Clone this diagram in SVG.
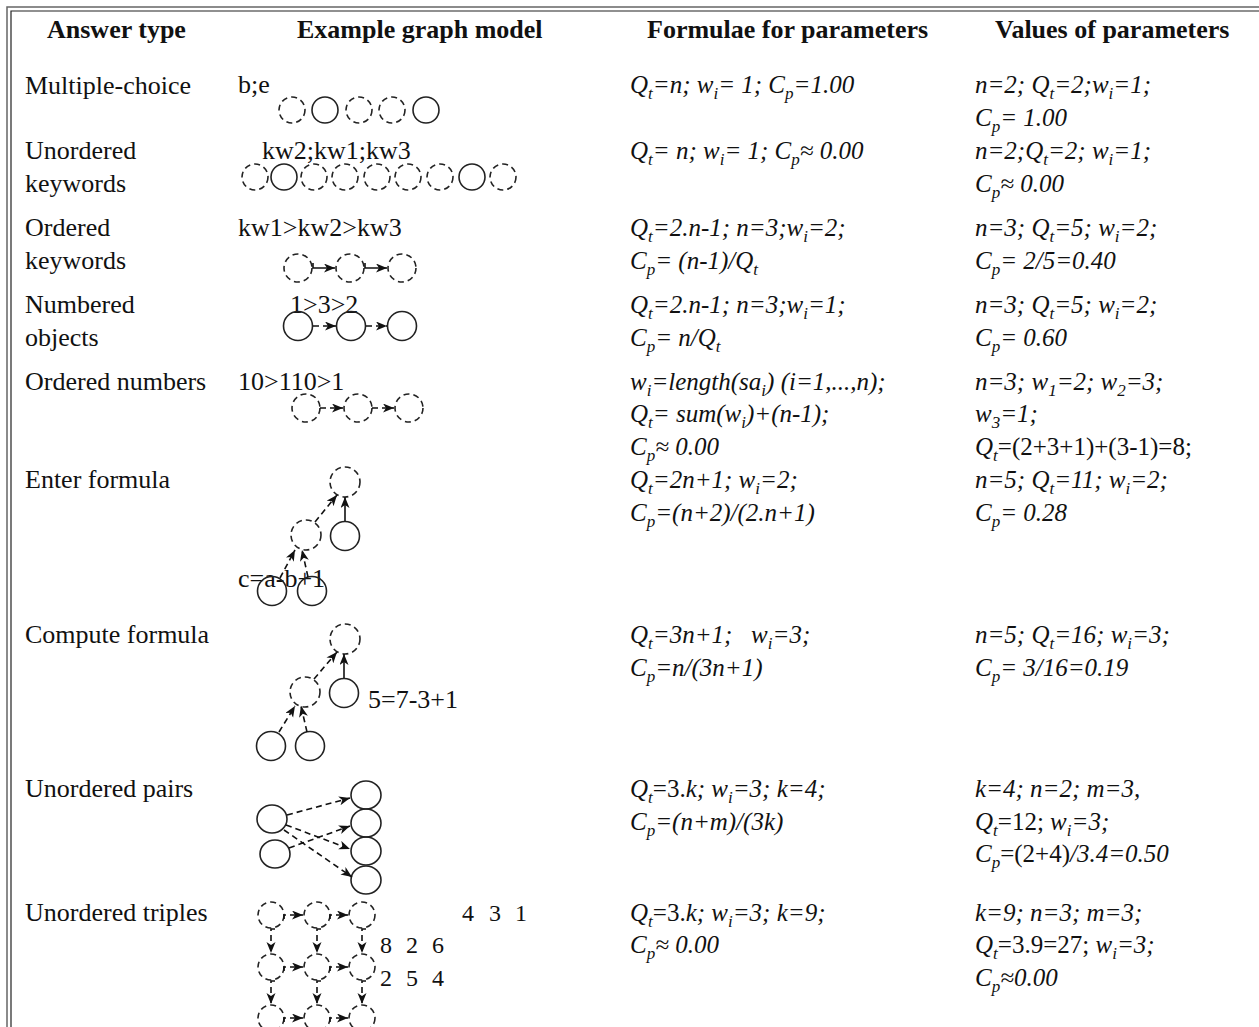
<svg xmlns="http://www.w3.org/2000/svg" width="1259" height="1027" viewBox="0 0 1259 1027">
<style>
.h{font-family:"Liberation Serif",serif;font-weight:bold;font-size:26px;fill:#111}
.t{font-family:"Liberation Serif",serif;font-size:26px;fill:#111}
.f{font-family:"Liberation Serif",serif;font-style:italic;font-size:25px;fill:#111}
.u{font-style:normal}
.d{font-family:"Liberation Serif",serif;font-size:24px;fill:#111}
.c{fill:none;stroke:#222;stroke-width:1.6}
.cd{fill:none;stroke:#222;stroke-width:1.6;stroke-dasharray:6 4}
.a{fill:none;stroke:#111;stroke-width:1.6;marker-end:url(#ah)}
.ad{fill:none;stroke:#111;stroke-width:1.6;stroke-dasharray:6 4;marker-end:url(#ah)}
</style>
<defs>
<marker id="ah" markerUnits="userSpaceOnUse" markerWidth="12" markerHeight="10" refX="11" refY="4.5" orient="auto">
<path d="M0,0 L11,4.5 L0,9 L3,4.5 z" fill="#111"/>
</marker>
</defs>
<rect width="1259" height="1027" fill="#fff"/>
<g id="border" fill="none">
<path d="M7,1027 V7 H1259" stroke="#666" stroke-width="1.5"/>
<path d="M11,1027 V11 H1259" stroke="#222" stroke-width="1.2"/>
</g>
<g id="header">
<text class="h" x="47" y="38">Answer type</text>
<text class="h" x="297" y="38">Example graph model</text>
<text class="h" x="647" y="38">Formulae for parameters</text>
<text class="h" x="995" y="38">Values of parameters</text>
</g>
<g id="answer-types">
<text class="t" x="25" y="94">Multiple-choice</text>
<text class="t" x="25" y="159">Unordered</text>
<text class="t" x="25" y="192">keywords</text>
<text class="t" x="25" y="236">Ordered</text>
<text class="t" x="25" y="269">keywords</text>
<text class="t" x="25" y="313">Numbered</text>
<text class="t" x="25" y="346">objects</text>
<text class="t" x="25" y="390">Ordered numbers</text>
<text class="t" x="25" y="488">Enter formula</text>
<text class="t" x="25" y="643">Compute formula</text>
<text class="t" x="25" y="797">Unordered pairs</text>
<text class="t" x="25" y="921">Unordered triples</text>
</g>
<g id="graph-labels">
<text class="t" x="238" y="93">b;e</text>
<text class="t" x="262" y="159">kw2;kw1;kw3</text>
<text class="t" x="238" y="236">kw1&gt;kw2&gt;kw3</text>
<text class="t" x="290" y="313">1&gt;3&gt;2</text>
<text class="t" x="238" y="390">10&gt;110&gt;1</text>
<text class="t" x="238" y="587">c=a-b+1</text>
<text class="t" x="368" y="708">5=7-3+1</text>
<text class="d" y="921"><tspan x="462">4</tspan><tspan x="489">3</tspan><tspan x="515">1</tspan></text>
<text class="d" y="953"><tspan x="380">8</tspan><tspan x="406">2</tspan><tspan x="432">6</tspan></text>
<text class="d" y="986"><tspan x="380">2</tspan><tspan x="406">5</tspan><tspan x="432">4</tspan></text>
</g>
<g id="node-mc">
<circle class="cd" cx="292" cy="110" r="13"/>
<circle class="c" cx="325" cy="110" r="13"/>
<circle class="cd" cx="359" cy="110" r="13"/>
<circle class="cd" cx="392" cy="110" r="13"/>
<circle class="c" cx="426" cy="110" r="13"/>
</g>
<g id="node-uk">
<circle class="cd" cx="255" cy="177" r="13"/>
<circle class="c" cx="284" cy="177" r="13"/>
<circle class="cd" cx="314" cy="177" r="13"/>
<circle class="cd" cx="345" cy="177" r="13"/>
<circle class="cd" cx="377" cy="177" r="13"/>
<circle class="cd" cx="408" cy="177" r="13"/>
<circle class="cd" cx="440" cy="177" r="13"/>
<circle class="c" cx="472" cy="177" r="13"/>
<circle class="cd" cx="503" cy="177" r="13"/>
</g>
<g id="node-ok">
<circle class="cd" cx="298" cy="268" r="14"/>
<circle class="cd" cx="350" cy="268" r="14"/>
<circle class="cd" cx="402" cy="268" r="14"/>
</g>
<g id="node-no">
<circle class="c" cx="298" cy="326" r="14.5"/>
<circle class="c" cx="351" cy="326" r="14.5"/>
<circle class="c" cx="402" cy="326" r="14.5"/>
</g>
<g id="node-on">
<circle class="cd" cx="306" cy="408" r="14"/>
<circle class="cd" cx="358" cy="408" r="14"/>
<circle class="cd" cx="409" cy="408" r="14"/>
</g>
<g id="node-ef">
<circle class="cd" cx="345" cy="482" r="15"/>
<circle class="cd" cx="306" cy="535" r="15"/>
<circle class="c" cx="345" cy="536" r="14.5"/>
<circle class="c" cx="272" cy="591" r="14.5"/>
<circle class="c" cx="312" cy="591" r="14.5"/>
</g>
<g id="node-cf">
<circle class="cd" cx="345" cy="639" r="15"/>
<circle class="cd" cx="305" cy="692" r="15"/>
<circle class="c" cx="344" cy="693" r="14.5"/>
<circle class="c" cx="271" cy="746" r="14.5"/>
<circle class="c" cx="310" cy="746" r="14.5"/>
</g>
<g id="node-up">
<ellipse class="c" cx="272" cy="819" rx="15" ry="14"/>
<ellipse class="c" cx="275" cy="854" rx="15" ry="14"/>
<ellipse class="c" cx="366" cy="795" rx="15" ry="14"/>
<ellipse class="c" cx="366" cy="823" rx="15" ry="14"/>
<ellipse class="c" cx="366" cy="851" rx="15" ry="14"/>
<ellipse class="c" cx="366" cy="880" rx="15" ry="14"/>
</g>
<g id="node-ut">
<circle class="cd" cx="271" cy="915" r="13"/>
<circle class="cd" cx="317" cy="915" r="13"/>
<circle class="cd" cx="362" cy="915" r="13"/>
<circle class="cd" cx="271" cy="967" r="13"/>
<circle class="cd" cx="317" cy="967" r="13"/>
<circle class="cd" cx="362" cy="967" r="13"/>
<circle class="cd" cx="271" cy="1018" r="13"/>
<circle class="cd" cx="317" cy="1018" r="13"/>
<circle class="cd" cx="362" cy="1018" r="13"/>
</g>
<g id="connectors">
<path class="a" d="M313,263 V268 H335"/>
<path class="a" d="M365,263 V268 H387"/>
<path class="ad" d="M313,326 H336"/>
<path class="ad" d="M366,326 H387"/>
<path class="ad" d="M320,408 H343"/>
<path class="ad" d="M372,408 H394"/>
<path class="ad" d="M315,522 L337,495"/>
<path class="a" d="M345,521 V497"/>
<path class="ad" d="M280,578 L295,550"/>
<path class="ad" d="M308,577 L302,550"/>
<path class="ad" d="M314,679 L337,652"/>
<path class="a" d="M344,678 V654"/>
<path class="ad" d="M279,732 L295,706"/>
<path class="ad" d="M307,732 L301,706"/>
<path class="ad" d="M287,815 L350,798"/>
<path class="ad" d="M286,825 L350,849"/>
<path class="ad" d="M284,830 L352,877"/>
<path class="ad" d="M289,848 L350,826"/>
<path class="ad" d="M284,919 V915 H303"/>
<path class="ad" d="M330,919 V915 H348"/>
<path class="ad" d="M284,971 V967 H303"/>
<path class="ad" d="M330,971 V967 H348"/>
<path class="ad" d="M284,1022 V1018 H303"/>
<path class="ad" d="M330,1022 V1018 H348"/>
<path class="ad" d="M275,929 H271 V953"/>
<path class="ad" d="M321,929 H317 V953"/>
<path class="ad" d="M366,929 H362 V953"/>
<path class="ad" d="M275,981 H271 V1004"/>
<path class="ad" d="M321,981 H317 V1004"/>
<path class="ad" d="M366,981 H362 V1004"/>
</g>
<g id="formulae">
<text class="f" x="630" y="93">Q<tspan dy="6" font-size="17">t</tspan><tspan dy="-6">=n; w</tspan><tspan dy="6" font-size="17">i</tspan><tspan dy="-6">= 1; C</tspan><tspan dy="6" font-size="17">p</tspan><tspan dy="-6">=1.00</tspan></text>
<text class="f" x="630" y="159">Q<tspan dy="6" font-size="17">t</tspan><tspan dy="-6">= n; w</tspan><tspan dy="6" font-size="17">i</tspan><tspan dy="-6">= 1; C</tspan><tspan dy="6" font-size="17">p</tspan><tspan dy="-6">≈ 0.00</tspan></text>
<text class="f" x="630" y="236">Q<tspan dy="6" font-size="17">t</tspan><tspan dy="-6">=2.n-1; n=3;w</tspan><tspan dy="6" font-size="17">i</tspan><tspan dy="-6">=2;</tspan></text>
<text class="f" x="630" y="269">C<tspan dy="6" font-size="17">p</tspan><tspan dy="-6">= (n-1)/Q</tspan><tspan dy="6" font-size="17">t</tspan></text>
<text class="f" x="630" y="313">Q<tspan dy="6" font-size="17">t</tspan><tspan dy="-6">=2.n-1; n=3;w</tspan><tspan dy="6" font-size="17">i</tspan><tspan dy="-6">=1;</tspan></text>
<text class="f" x="630" y="346">C<tspan dy="6" font-size="17">p</tspan><tspan dy="-6">= n/Q</tspan><tspan dy="6" font-size="17">t</tspan></text>
<text class="f" x="630" y="390">w<tspan dy="6" font-size="17">i</tspan><tspan dy="-6">=length(sa</tspan><tspan dy="6" font-size="17">i</tspan><tspan dy="-6">) (i=1,...,n);</tspan></text>
<text class="f" x="630" y="422">Q<tspan dy="6" font-size="17">t</tspan><tspan dy="-6">= sum(w</tspan><tspan dy="6" font-size="17">i</tspan><tspan dy="-6">)+(n-1);</tspan></text>
<text class="f" x="630" y="455">C<tspan dy="6" font-size="17">p</tspan><tspan dy="-6">≈ 0.00</tspan></text>
<text class="f" x="630" y="488">Q<tspan dy="6" font-size="17">t</tspan><tspan dy="-6">=2n+1; w</tspan><tspan dy="6" font-size="17">i</tspan><tspan dy="-6">=2;</tspan></text>
<text class="f" x="630" y="521">C<tspan dy="6" font-size="17">p</tspan><tspan dy="-6">=(n+2)/(2.n+1)</tspan></text>
<text class="f" x="630" y="643">Q<tspan dy="6" font-size="17">t</tspan><tspan dy="-6" xml:space="preserve">=3n+1;   w</tspan><tspan dy="6" font-size="17">i</tspan><tspan dy="-6">=3;</tspan></text>
<text class="f" x="630" y="676">C<tspan dy="6" font-size="17">p</tspan><tspan dy="-6">=n/(3n+1)</tspan></text>
<text class="f" x="630" y="797">Q<tspan dy="6" font-size="17">t</tspan><tspan dy="-6" class="u">=3.</tspan><tspan>k; w</tspan><tspan dy="6" font-size="17">i</tspan><tspan dy="-6">=3; k=4;</tspan></text>
<text class="f" x="630" y="830">C<tspan dy="6" font-size="17">p</tspan><tspan dy="-6">=(n+m)/(3k)</tspan></text>
<text class="f" x="630" y="921">Q<tspan dy="6" font-size="17">t</tspan><tspan dy="-6" class="u">=3.</tspan><tspan>k; w</tspan><tspan dy="6" font-size="17">i</tspan><tspan dy="-6">=3; k=9;</tspan></text>
<text class="f" x="630" y="953">C<tspan dy="6" font-size="17">p</tspan><tspan dy="-6">≈ 0.00</tspan></text>
</g>
<g id="values">
<text class="f" x="975" y="93">n=2; Q<tspan dy="6" font-size="17">t</tspan><tspan dy="-6">=2;w</tspan><tspan dy="6" font-size="17">i</tspan><tspan dy="-6">=1;</tspan></text>
<text class="f" x="975" y="126">C<tspan dy="6" font-size="17">p</tspan><tspan dy="-6">= 1.00</tspan></text>
<text class="f" x="975" y="159">n=2;Q<tspan dy="6" font-size="17">t</tspan><tspan dy="-6">=2; w</tspan><tspan dy="6" font-size="17">i</tspan><tspan dy="-6">=1;</tspan></text>
<text class="f" x="975" y="192">C<tspan dy="6" font-size="17">p</tspan><tspan dy="-6">≈ 0.00</tspan></text>
<text class="f" x="975" y="236">n=3; Q<tspan dy="6" font-size="17">t</tspan><tspan dy="-6">=5; w</tspan><tspan dy="6" font-size="17">i</tspan><tspan dy="-6">=2;</tspan></text>
<text class="f" x="975" y="269">C<tspan dy="6" font-size="17">p</tspan><tspan dy="-6">= 2/5=0.40</tspan></text>
<text class="f" x="975" y="313">n=3; Q<tspan dy="6" font-size="17">t</tspan><tspan dy="-6">=5; w</tspan><tspan dy="6" font-size="17">i</tspan><tspan dy="-6">=2;</tspan></text>
<text class="f" x="975" y="346">C<tspan dy="6" font-size="17">p</tspan><tspan dy="-6">= 0.60</tspan></text>
<text class="f" x="975" y="390">n=3; w<tspan dy="6" font-size="17">1</tspan><tspan dy="-6">=2; w</tspan><tspan dy="6" font-size="17">2</tspan><tspan dy="-6">=3;</tspan></text>
<text class="f" x="975" y="422">w<tspan dy="6" font-size="17">3</tspan><tspan dy="-6">=1;</tspan></text>
<text class="f" x="975" y="455">Q<tspan dy="6" font-size="17">t</tspan><tspan dy="-6" class="u">=(2+3+1)+(3-1)=8;</tspan></text>
<text class="f" x="975" y="488">n=5; Q<tspan dy="6" font-size="17">t</tspan><tspan dy="-6">=11; w</tspan><tspan dy="6" font-size="17">i</tspan><tspan dy="-6">=2;</tspan></text>
<text class="f" x="975" y="521">C<tspan dy="6" font-size="17">p</tspan><tspan dy="-6">= 0.28</tspan></text>
<text class="f" x="975" y="643">n=5; Q<tspan dy="6" font-size="17">t</tspan><tspan dy="-6">=16; w</tspan><tspan dy="6" font-size="17">i</tspan><tspan dy="-6">=3;</tspan></text>
<text class="f" x="975" y="676">C<tspan dy="6" font-size="17">p</tspan><tspan dy="-6">= 3/16=0.19</tspan></text>
<text class="f" x="975" y="797">k=4; n=2; m=3,</text>
<text class="f" x="975" y="830">Q<tspan dy="6" font-size="17">t</tspan><tspan dy="-6" class="u">=12;</tspan><tspan> w</tspan><tspan dy="6" font-size="17">i</tspan><tspan dy="-6">=3;</tspan></text>
<text class="f" x="975" y="862">C<tspan dy="6" font-size="17">p</tspan><tspan dy="-6" class="u">=(2+4)</tspan><tspan>/3.4=0.50</tspan></text>
<text class="f" x="975" y="921">k=9; n=3; m=3;</text>
<text class="f" x="975" y="953">Q<tspan dy="6" font-size="17">t</tspan><tspan dy="-6" class="u">=3.9=27;</tspan><tspan> w</tspan><tspan dy="6" font-size="17">i</tspan><tspan dy="-6">=3;</tspan></text>
<text class="f" x="975" y="986">C<tspan dy="6" font-size="17">p</tspan><tspan dy="-6">≈0.00</tspan></text>
</g>
</svg>
